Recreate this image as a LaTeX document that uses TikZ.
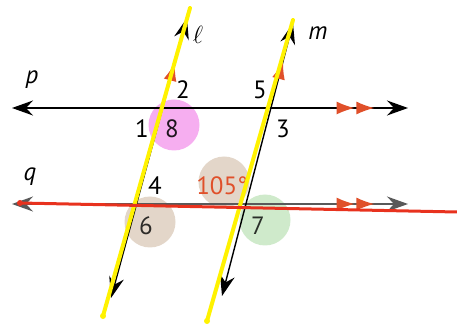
\documentclass[tikz,border=0pt]{standalone}
\usepackage{fontspec}
\setmainfont{PT Sans}
\usetikzlibrary{arrows.meta,decorations.markings}

\definecolor{markred}{HTML}{E0502A}
\definecolor{penred}{HTML}{E8321E}
\definecolor{penyellow}{HTML}{FFF200}
\definecolor{pinkfill}{HTML}{F6AEF0}
\definecolor{tanfill}{HTML}{E3D6C9}
\definecolor{greenfill}{HTML}{CFEACB}

\begin{document}
\begin{tikzpicture}[
        x=1pt, y=-1pt,
        font=\fontsize{25}{29}\selectfont,
        line/.style={line width=1.4pt, {Stealth[length=21pt,width=15pt,inset=7pt]}-{Stealth[length=21pt,width=15pt,inset=7pt]}},
        parone/.style={postaction={decorate}, decoration={markings,
            mark=at position #1 with {\arrow[markred]{Latex[length=18pt,width=13pt]}}}},
        partwo/.style 2 args={postaction={decorate}, decoration={markings,
            mark=at position #1 with {\arrow[markred]{Latex[length=18pt,width=13pt]}},
            mark=at position #2 with {\arrow[markred]{Latex[length=18pt,width=13pt]}}}},
        spot/.style={circle, minimum size=51pt, inner sep=0pt},
        num/.style={inner sep=0pt},
        highlight/.style={line width=4pt, line cap=round, penyellow},
        redpen/.style={line width=3pt, line cap=round, penred}
    ]
        \useasboundingbox (0,0) rectangle (457,328);

        % Shaded angle spots
        \node[spot, fill=pinkfill] (s8) at (174,125) {};
        \node[spot, fill=tanfill] (s105) at (224,182) {};
        \node[spot, fill=tanfill] (s6) at (150,222) {};
        \node[spot, fill=greenfill] (s7) at (265,220) {};

        % End points of the lines
        \coordinate (pW) at (12,108);
        \coordinate (pE) at (408,108);
        \coordinate (qW) at (12,204);
        \coordinate (qE) at (408,204);
        \coordinate (lS) at (111,298);
        \coordinate (lN) at (187,18);
        \coordinate (mS) at (222,296);
        \coordinate (mN) at (293,23);

        % Lines
        \draw[line, partwo={0.865}{0.915}] (pW) -- (pE);
        \draw[line, draw=gray!70!black, partwo={0.865}{0.915}] (qW) -- (qE);
        \draw[line, parone=0.84] (lS) -- (lN);
        \draw[line, parone=0.86] (mS) -- (mN);

        % Line names
        \node (lp) at (32,80) {\itshape p};
        \node (lq) at (30,177) {\itshape q};
        \node (ll) at (198,35) {$\ell$};
        \node (lm) at (318,33) {\itshape m};

        % Angle numbers
        \node[num] (a2) at (183,90) {2};
        \node[num] (a5) at (260,90) {5};
        \node[num] (a1) at (142,129) {1};
        \node[num, text=black!75!pinkfill!50!black] (a8) at (172,129) {8};
        \node[num] (a3) at (283,129) {3};
        \node[num] (a4) at (155,186) {4};
        \node[num, text=markred] (a105) at (222,186) {105°};
        \node[num, text=black!80!tanfill] (a6) at (146,226) {6};
        \node[num, text=black!80!greenfill] (a7) at (258,226) {7};

        % Pen marks
        \coordinate (yl1) at (190,8);
        \coordinate (yl2) at (103,316);
        \coordinate (ym1) at (293,20);
        \coordinate (ym2) at (207,321);
        \coordinate (r1) at (20,203);
        \coordinate (r2) at (457,212);
        \draw[highlight] (yl1) -- (yl2);
        \draw[highlight] (ym1) -- (ym2);
        \draw[redpen] (r1) -- (r2);
        \fill[penred] (r1) circle (3pt);
        \fill[penyellow] (yl2) circle (3pt);
        \fill[penyellow] (ym2) circle (3pt);
    \end{tikzpicture}
\end{document}
